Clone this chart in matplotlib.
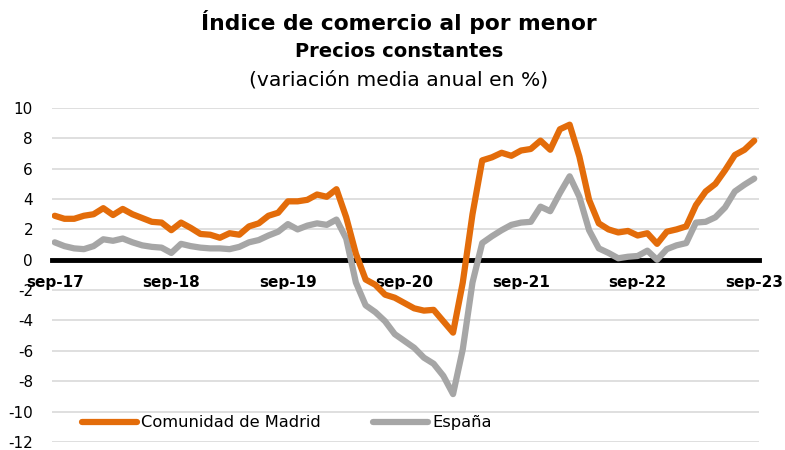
import numpy as np
import matplotlib.pyplot as plt

plt.rcParams['font.family'] = ['DejaVu Sans']

# Variación media anual (%), mensual de sep-17 a sep-23
madrid = [2.9, 2.7, 2.7, 2.9, 3.0, 3.4, 2.95, 3.35, 3.0, 2.75,
          2.5, 2.45, 1.95, 2.45, 2.1, 1.7, 1.65, 1.45, 1.75, 1.65,
          2.2, 2.4, 2.9, 3.1, 3.85, 3.85, 3.95, 4.3, 4.15, 4.65,
          2.8, 0.4, -1.3, -1.65, -2.3, -2.5, -2.85, -3.2, -3.35, -3.3,
          -4.05, -4.8, -1.5, 3.0, 6.55, 6.75, 7.05, 6.85, 7.2, 7.3,
          7.85, 7.25, 8.6, 8.9, 6.8, 3.95, 2.4, 2.0, 1.8, 1.9,
          1.6, 1.75, 1.05, 1.85, 2.0, 2.2, 3.6, 4.5, 5.0, 5.9,
          6.9, 7.25, 7.85]
espana = [1.15, 0.9, 0.75, 0.7, 0.9, 1.35, 1.25, 1.4, 1.15, 0.95,
          0.85, 0.8, 0.45, 1.05, 0.9, 0.8, 0.75, 0.75, 0.7, 0.85,
          1.15, 1.3, 1.6, 1.85, 2.35, 2.0, 2.25, 2.4, 2.3, 2.65,
          1.4, -1.5, -3.0, -3.45, -4.05, -4.9, -5.35, -5.8, -6.45, -6.85,
          -7.65, -8.85, -5.9, -1.5, 1.1, 1.55, 1.95, 2.3, 2.45, 2.5,
          3.5, 3.2, 4.4, 5.5, 4.15, 1.95, 0.75, 0.45, 0.1, 0.2,
          0.25, 0.6, 0.0, 0.7, 0.95, 1.1, 2.45, 2.5, 2.8, 3.45,
          4.5, 4.95, 5.35]
xlabels = ['sep-17', 'sep-18', 'sep-19', 'sep-20', 'sep-21', 'sep-22', 'sep-23']
yticks = list(range(-12, 11, 2))

meses = np.arange(len(madrid))

fig = plt.figure(figsize=(7.85, 4.5), dpi=100)
ax = fig.add_axes([0.066, 0.018, 0.901, 0.742])

ax.plot(meses, madrid, color='#E36C0A', lw=4.5, solid_capstyle='round',
        solid_joinstyle='round', zorder=4, label='Comunidad de Madrid')
ax.plot(meses, espana, color='#A6A6A6', lw=4.5, solid_capstyle='round',
        solid_joinstyle='round', zorder=3, label='España')

ax.set_xlim(-0.3, 72.5)
ax.set_ylim(-12, 10)

ax.yaxis.grid(True, color='#d9d9d9', lw=1.2)
ax.set_axisbelow(True)
for s in ['left', 'top', 'right']:
    ax.spines[s].set_visible(False)
ax.spines['bottom'].set_position(('data', 0))
ax.spines['bottom'].set_linewidth(3.5)
ax.spines['bottom'].set_zorder(2.5)
ax.tick_params(axis='both', length=0)
ax.tick_params(axis='x', pad=11)
ax.tick_params(axis='y', pad=13.5)

ax.set_yticks(yticks)
ax.set_yticklabels([str(v) for v in yticks], fontsize=11)
ax.set_xticks(meses[::12])
ax.set_xticklabels(xlabels, fontsize=11, fontweight='bold')
for t in ax.get_xticklabels():
    t.set_fontweight('bold')

ax.legend(ncol=2, frameon=False, loc='center', bbox_to_anchor=(0.332, 0.057),
          fontsize=11.7, handlelength=3.4, handletextpad=0.25, columnspacing=3.2)

fig.text(0.508, 0.95, 'Índice de comercio al por menor', ha='center', va='center',
         fontsize=15.7, fontweight='bold')
fig.text(0.508, 0.885, 'Precios constantes', ha='center', va='center',
         fontsize=14, fontweight='bold')
fig.text(0.508, 0.823, '(variación media anual en %)', ha='center', va='center',
         fontsize=14.6)

fig.savefig('out.png', dpi=100)
